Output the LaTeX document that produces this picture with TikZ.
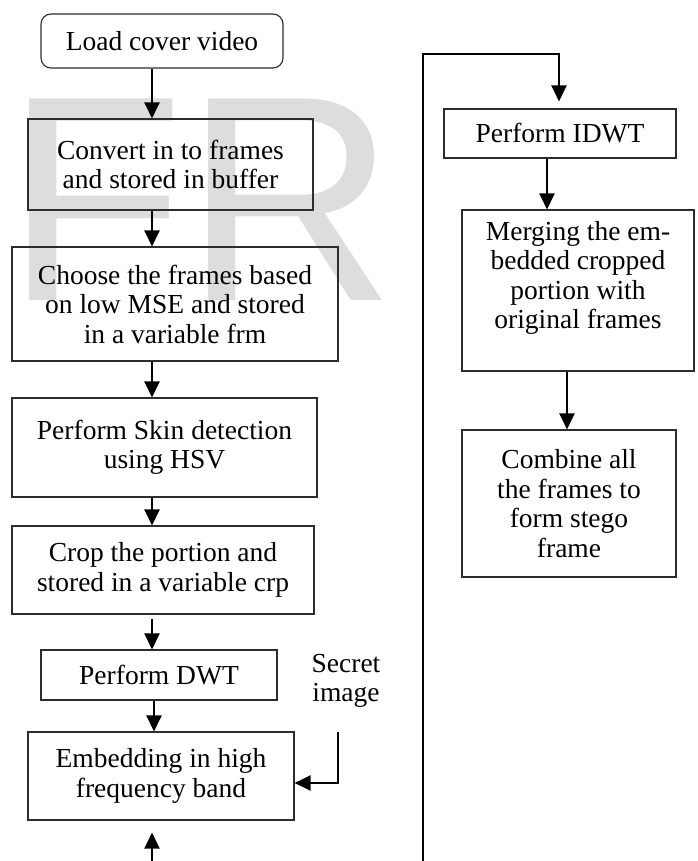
\documentclass[tikz,border=0pt]{standalone}
\usepackage{fontspec}
\setmainfont{Liberation Serif}
\newfontfamily\wmfont{Liberation Sans}
\usetikzlibrary{arrows.meta}
\definecolor{wm}{RGB}{221,221,221}
\definecolor{bx}{RGB}{45,45,45}
\begin{document}
\begin{tikzpicture}[x=1pt,y=-1pt,
  box/.style={draw=bx, line width=1.1pt, align=center, inner sep=0pt,
              font=\fontsize{27.5}{29.5}\selectfont},
  arr/.style={line width=2.4pt, -{Triangle[length=16pt,width=15pt]}},
  lbl/.style={align=center, inner sep=0pt, font=\fontsize{27.5}{29.5}\selectfont}]
\useasboundingbox (0,0) rectangle (697,861);
% watermark
\node[anchor=base west, inner sep=0pt, text=wm,
      font=\wmfont\fontsize{293}{293}\selectfont] (wmark) at (5,300) {FR};
% left column
\node[box, rounded corners=10pt, minimum width=242pt, minimum height=54pt] (load) at (162,41) {Load cover video};
\node[box, minimum width=285pt, minimum height=91pt] (conv) at (170.5,164.5) {Convert in to frames\\and stored in buffer};
\node[box, minimum width=326pt, minimum height=114pt] (choose) at (175,304) {Choose the frames based\\on low MSE and stored\\in a variable frm};
\node[box, minimum width=305pt, minimum height=99pt] (skin) at (164.5,447.5) {Perform Skin detection\\using HSV};
\node[box, minimum width=302pt, minimum height=88pt] (crop) at (163,570) {Crop the portion and\\stored in a variable crp};
\node[box, minimum width=236pt, minimum height=50pt] (dwt) at (159,675) {Perform DWT};
\node[box, minimum width=266pt, minimum height=88pt] (embed) at (161,776) {Embedding in high\\frequency band};
\node[lbl] (secret) at (346,681) {Secret\\image};
% right column
\node[box, minimum width=232pt, minimum height=49pt] (idwt) at (560,133.5) {Perform IDWT};
\node[box, minimum width=232pt, minimum height=161pt] (merge) at (578,290.5) {Merging the em-\\bedded cropped\\portion with\\original frames\\[2pt]};
\node[box, minimum width=214pt, minimum height=147pt] (comb) at (569,503.5) {Combine all\\the frames to\\form stego\\frame};
% helper coordinates
\coordinate (xl) at (152,0);
\coordinate (xd) at (154,0);
\coordinate (xi) at (547,0);
\coordinate (xm) at (567,0);
\coordinate (bot) at (152,861);
\coordinate (s0) at (338,732);
\coordinate (s1) at (338,783);
\coordinate (lb) at (423,861);
\coordinate (lt) at (423,54);
\coordinate (lr) at (559,54);
% connectors
\draw[arr] (load.south -| xl) -- (conv.north -| xl);
\draw[arr] (conv.south -| xl) -- (choose.north -| xl);
\draw[arr] (choose.south -| xl) -- (skin.north -| xl);
\draw[arr] (skin.south -| xl) -- (crop.north -| xl);
\draw[arr] ([yshift=-4pt]crop.south -| xl) -- (dwt.north -| xl);
\draw[arr] (dwt.south -| xd) -- (embed.north -| xd);
\draw[arr] (bot) -- ([yshift=-12pt]embed.south -| bot);
\draw[arr] (s0) -- (s1) -- (s1 -| embed.east);
\draw[arr] (lb) -- (lt) -- (lr) -- ([yshift=7pt]idwt.north -| lr);
\draw[arr] (idwt.south -| xi) -- (merge.north -| xi);
\draw[arr] (merge.south -| xm) -- (comb.north -| xm);
\end{tikzpicture}
\end{document}
